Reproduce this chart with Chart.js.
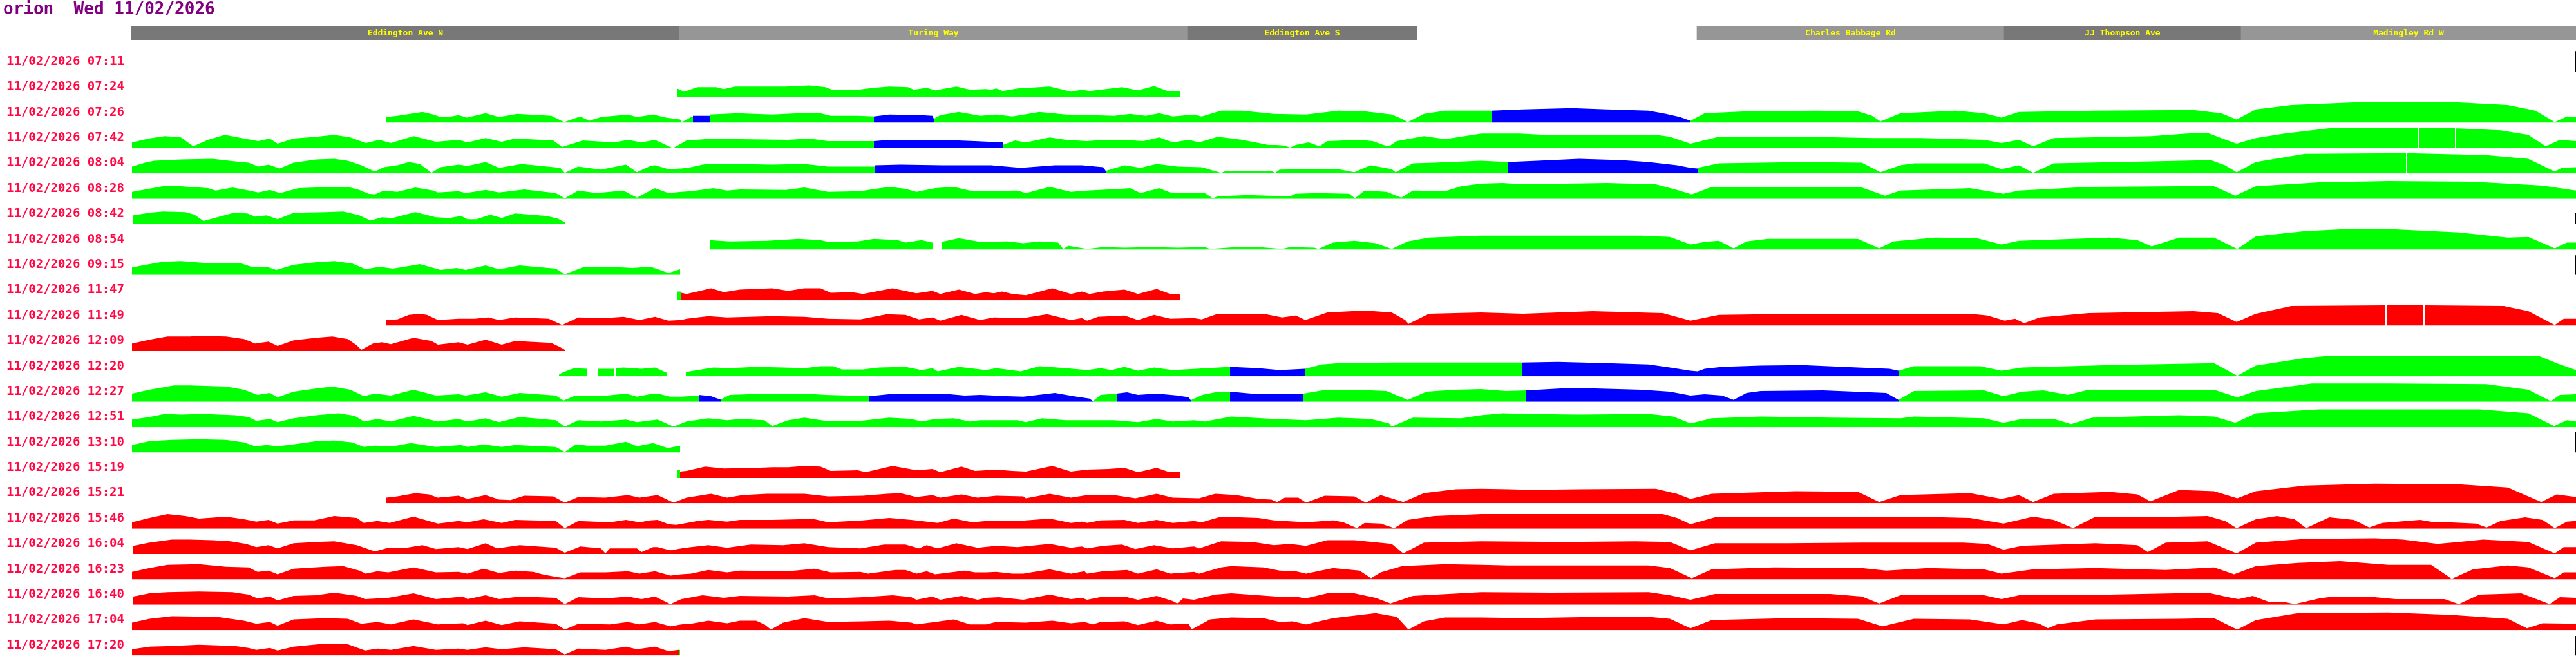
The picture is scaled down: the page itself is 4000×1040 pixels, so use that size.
<!DOCTYPE html>
<html>
<head>
  <title>orion trips</title>
  <script src="https://cdn.jsdelivr.net/npm/chart.js"></script>
  <style>
    body { margin: 0; background: #fff; }
    #wrap { width: 4000px; height: 1040px; }
  </style>
</head>
<body>
<div id="wrap"><canvas id="trips"></canvas></div>
<script>
// distance along the route (m), 0 = start of Eddington Ave N
const routeLength = 3796;

const roadNames = ['Eddington Ave N', 'Turing Way', 'Eddington Ave S', 'Charles Babbage Rd', 'JJ Thompson Ave', 'Madingley Rd W'];
const roadFrom = [0, 851, 1640, 2431, 2908, 3276];
const roadTo = [851, 1640, 1996, 2908, 3276, 3796];

const tripLabels = [
  '11/02/2026 07:11', '11/02/2026 07:24', '11/02/2026 07:26', '11/02/2026 07:42',
  '11/02/2026 08:04', '11/02/2026 08:28', '11/02/2026 08:42', '11/02/2026 08:54',
  '11/02/2026 09:15', '11/02/2026 11:47', '11/02/2026 11:49', '11/02/2026 12:09',
  '11/02/2026 12:20', '11/02/2026 12:27', '11/02/2026 12:51', '11/02/2026 13:10',
  '11/02/2026 15:19', '11/02/2026 15:21', '11/02/2026 15:46', '11/02/2026 16:04',
  '11/02/2026 16:23', '11/02/2026 16:40', '11/02/2026 17:04', '11/02/2026 17:20'
];

// each trip: pieces of [state, [distance, speed, distance, speed, ...]]
const trip0711 = [];
const trip0724 = [
  ['up', [847,14, 852,12, 858,9, 879,16, 908,16, 920,13, 937,17, 1016,17, 1053,19, 1078,16, 1088,12, 1128,12, 1153,15, 1177,17, 1206,16, 1215,12, 1235,15, 1248,11, 1281,17, 1302,12, 1327,13, 1335,12, 1343,14, 1353,10, 1376,14, 1426,17, 1459,9, 1476,12, 1488,10, 1538,16, 1563,11, 1588,18, 1609,10, 1629,10]]
];
const trip0726 = [
  ['up', [396,9, 413,11, 452,17, 469,13, 480,9, 497,10, 508,12, 521,8, 550,15, 571,9, 599,14, 652,11, 672,1, 697,10, 711,3, 729,9, 771,13, 785,9, 810,13, 830,8, 852,5, 855,1, 869,9, 872,10]],
  ['slow', [872,11, 898,11]],
  ['up', [898,13, 941,15, 995,13, 1036,15, 1070,15, 1086,11, 1128,11, 1153,10]],
  ['slow', [1153,10, 1177,13, 1227,12, 1244,11, 1246,6]],
  ['up', [1246,6, 1256,12, 1285,17, 1318,11, 1343,13, 1368,10, 1410,17, 1451,13, 1493,12, 1526,11, 1551,14, 1575,11, 1596,15, 1617,10, 1650,13, 1662,10, 1692,19, 1725,19, 1774,14, 1824,13, 1874,19, 1915,18, 1957,13, 1973,6, 1982,1, 2007,14, 2040,19, 2096,19, 2112,19]],
  ['slow', [2112,19, 2161,21, 2237,23, 2291,21, 2356,19, 2383,14, 2405,9, 2421,3]],
  ['up', [2421,3, 2443,15, 2508,18, 2616,19, 2681,18, 2703,11, 2716,2, 2747,15, 2833,19, 2877,15, 2904,8, 2931,17, 3050,19, 3202,20, 3245,15, 3269,5, 3299,21, 3354,28, 3451,32, 3614,32, 3690,28, 3733,19, 3763,1, 3782,10, 3796,9]]
];
const trip0742 = [
  ['up', [1,9, 27,15, 52,19, 77,17, 96,3, 119,13, 145,21, 175,15, 197,11, 215,15, 227,7, 252,15, 287,18, 315,21, 340,17, 364,8, 385,13, 403,8, 438,19, 473,10, 508,13, 522,9, 550,16, 575,10, 596,15, 655,12, 669,2, 701,12, 750,9, 771,13, 792,9, 813,13, 841,0, 862,12, 891,14, 945,14, 1020,13, 1053,15, 1082,11, 1136,11, 1153,11]],
  ['slow', [1153,11, 1177,13, 1211,12, 1260,13, 1310,11, 1353,9]],
  ['up', [1353,5, 1372,12, 1389,9, 1426,17, 1451,13, 1484,11, 1509,13, 1542,13, 1571,11, 1596,17, 1617,9, 1642,13, 1658,9, 1687,18, 1725,13, 1766,5, 1778,5, 1791,4, 1799,1, 1808,5, 1828,9, 1845,3, 1857,11, 1907,13, 1928,11, 1944,5, 1953,3, 1965,11, 2007,19, 2040,14, 2096,23, 2156,23, 2194,21, 2291,21, 2367,21, 2389,18, 2421,7, 2465,18, 2606,18, 2703,16, 2779,16, 2877,13, 2904,8, 2931,13, 2953,3, 2985,16, 3137,19, 3191,23, 3224,24, 3245,16, 3269,7, 3299,16, 3343,23, 3419,32, 3550,32]],
  ['up', [3552,32, 3608,32]],
  ['up', [3610,31, 3614,31, 3679,28, 3722,21, 3749,3, 3771,13, 3796,11]]
];
const trip0804 = [
  ['up', [1,11, 21,17, 35,20, 77,22, 126,23, 161,19, 182,17, 197,11, 213,14, 230,8, 252,17, 287,22, 315,23, 336,20, 357,13, 378,3, 392,10, 413,13, 431,18, 448,15, 466,1, 480,10, 508,14, 522,12, 550,18, 571,9, 606,15, 666,9, 673,1, 694,11, 729,6, 768,14, 785,2, 806,12, 813,13, 834,7, 854,8, 869,10, 887,14, 896,15, 941,15, 995,14, 1045,15, 1082,11, 1155,11]],
  ['slow', [1155,13, 1194,14, 1260,13, 1335,13, 1381,9, 1434,13, 1476,13, 1509,10, 1513,4]],
  ['up', [1513,4, 1542,13, 1567,9, 1592,15, 1625,11, 1662,10, 1692,1, 1700,4, 1770,4, 1776,1, 1783,6, 1824,7, 1874,7, 1899,2, 1924,13, 1957,7, 1963,2, 1990,16, 2023,17, 2096,20, 2137,18]],
  ['slow', [2137,18, 2183,20, 2248,23, 2313,21, 2356,18, 2400,13, 2421,9, 2432,8]],
  ['up', [2432,9, 2465,16, 2595,18, 2687,17, 2716,2, 2747,13, 2768,16, 2877,16, 2904,7, 2931,13, 2953,1, 2985,16, 3137,19, 3229,21, 3251,13, 3269,2, 3299,18, 3375,31, 3532,32]],
  ['up', [3534,32, 3657,29, 3722,23, 3763,3, 3774,9, 3796,10]]
];
const trip0828 = [
  ['up', [1,11, 27,16, 49,20, 77,20, 119,17, 131,13, 157,18, 178,14, 197,10, 215,14, 231,9, 259,17, 287,18, 336,19, 354,14, 368,8, 378,7, 392,13, 413,11, 441,18, 469,13, 476,10, 508,12, 519,9, 550,14, 571,10, 610,15, 659,9, 673,1, 694,13, 722,9, 764,13, 785,2, 813,17, 834,9, 854,11, 869,12, 904,17, 925,13, 945,15, 1016,14, 1045,18, 1082,11, 1132,12, 1144,14, 1177,19, 1202,16, 1219,11, 1248,17, 1277,19, 1302,13, 1318,12, 1376,13, 1389,9, 1426,19, 1459,11, 1484,13, 1517,15, 1551,17, 1567,9, 1596,17, 1613,10, 1638,9, 1667,9, 1679,1, 1687,4, 1733,6, 1799,4, 1808,8, 1841,9, 1891,8, 1900,1, 1915,13, 1949,11, 1972,2, 1990,13, 2040,12, 2065,20, 2096,24, 2129,25, 2161,23, 2291,25, 2367,23, 2400,14, 2423,7, 2454,19, 2573,18, 2687,18, 2723,5, 2747,13, 2855,17, 2907,8, 2931,13, 3039,19, 3180,20, 3234,20, 3267,5, 3299,20, 3397,26, 3505,28, 3636,27, 3744,21, 3796,13]]
];
const trip0842 = [
  ['up', [3,14, 28,18, 49,20, 84,19, 98,15, 112,5, 133,11, 159,18, 180,17, 192,12, 210,14, 227,8, 252,18, 301,19, 329,20, 354,14, 371,6, 389,11, 406,10, 441,19, 473,11, 494,10, 512,13, 522,8, 536,8, 557,15, 575,10, 596,17, 645,13, 662,9, 673,3]]
];
const trip0854 = [
  ['up', [898,15, 929,13, 987,14, 1036,17, 1070,15, 1082,12, 1128,13, 1153,17, 1190,15, 1202,11, 1227,15, 1244,11]],
  ['up', [1258,12, 1285,18, 1318,12, 1360,13, 1385,10, 1410,13, 1439,11, 1447,1, 1455,6, 1484,1, 1509,4, 1542,3, 1584,4, 1625,3, 1667,4, 1675,1, 1716,4, 1750,4, 1787,1, 1799,4, 1837,3, 1843,1, 1866,11, 1899,14, 1932,10, 1957,1, 1982,13, 2015,19, 2096,22, 2259,22, 2345,22, 2389,20, 2421,8, 2443,12, 2465,14, 2488,2, 2508,13, 2541,17, 2681,17, 2714,2, 2736,13, 2801,19, 2866,18, 2904,8, 2931,14, 3072,19, 3115,15, 3137,5, 3180,19, 3234,19, 3270,1, 3299,21, 3375,29, 3430,32, 3516,32, 3614,27, 3690,19, 3722,20, 3763,2, 3782,11, 3796,11]]
];
const trip0915 = [
  ['up', [1,12, 28,17, 49,21, 77,22, 112,19, 168,19, 189,12, 210,13, 225,8, 252,16, 287,20, 315,22, 343,18, 364,9, 385,13, 406,10, 448,17, 480,8, 505,11, 519,8, 550,15, 571,9, 603,15, 659,10, 673,1, 701,12, 743,13, 778,11, 806,13, 834,3, 852,9]]
];
const trip1147 = [
  ['up', [847,14, 854,14]],
  ['down', [854,12, 862,10, 879,14, 900,19, 920,13, 945,17, 995,19, 1020,15, 1045,19, 1070,19, 1086,12, 1119,13, 1136,10, 1182,19, 1219,11, 1244,15, 1256,10, 1285,17, 1310,10, 1327,13, 1339,11, 1352,14, 1368,10, 1389,8, 1430,19, 1459,10, 1476,14, 1488,10, 1509,14, 1542,17, 1563,10, 1592,18, 1613,10, 1629,9]]
];
const trip1149 = [
  ['down', [396,9, 413,10, 431,17, 448,19, 459,17, 476,9, 508,11, 533,11, 554,13, 571,9, 596,13, 648,11, 669,1, 694,13, 736,12, 764,14, 789,9, 813,14, 834,8, 854,9, 862,11, 896,15, 925,13, 995,15, 1045,14, 1082,11, 1132,10, 1173,18, 1202,17, 1223,10, 1244,13, 1256,8, 1289,17, 1318,9, 1339,13, 1385,12, 1422,18, 1459,9, 1476,12, 1484,8, 1501,14, 1542,16, 1563,9, 1588,17, 1613,11, 1650,12, 1662,10, 1687,19, 1758,19, 1787,13, 1808,16, 1823,9, 1857,21, 1915,24, 1957,21, 1978,9, 1983,3, 2015,19, 2096,21, 2161,19, 2269,23, 2378,20, 2421,8, 2465,17, 2595,19, 2703,18, 2855,19, 2882,16, 2909,8, 2925,11, 2939,4, 2963,13, 3039,20, 3202,23, 3240,20, 3269,6, 3299,19, 3354,31, 3500,32]],
  ['down', [3503,32, 3559,32]],
  ['down', [3561,32, 3684,31, 3722,23, 3763,1, 3777,11, 3796,11]]
];
const trip1209 = [
  ['down', [1,12, 28,18, 56,23, 91,23, 105,24, 147,23, 175,19, 192,12, 213,15, 227,8, 252,17, 287,21, 312,23, 336,19, 350,9, 357,2, 375,12, 389,14, 403,11, 438,21, 466,16, 476,10, 508,14, 522,10, 550,18, 575,10, 596,16, 652,13, 668,5, 673,2]]
];
const trip1220 = [
  ['up', [664,3, 669,6, 687,13, 708,12]],
  ['up', [725,12, 750,12]],
  ['up', [752,13, 764,14, 792,12, 813,14, 831,6]],
  ['up', [861,7, 904,14, 929,13, 970,15, 1012,14, 1045,13, 1070,16, 1090,16, 1103,11, 1136,11, 1161,14, 1202,15, 1227,10, 1244,13, 1252,8, 1285,15, 1327,10, 1343,13, 1381,8, 1410,16, 1451,13, 1484,10, 1505,13, 1522,10, 1542,15, 1563,9, 1588,14, 1617,10, 1671,13, 1706,15]],
  ['slow', [1706,15, 1750,13, 1783,10, 1822,12]],
  ['up', [1822,12, 1849,19, 1874,21, 1957,22, 2096,22, 2159,22]],
  ['slow', [2159,22, 2215,23, 2291,21, 2356,19, 2389,14, 2421,9, 2432,8, 2443,12, 2470,15, 2530,17, 2595,18, 2681,14, 2730,12, 2744,9]],
  ['up', [2744,9, 2768,16, 2871,16, 2904,9, 2936,14, 3072,18, 3234,21, 3270,1, 3299,17, 3375,29, 3408,32, 3739,32, 3766,21, 3796,10]]
];
const trip1227 = [
  ['up', [1,13, 28,19, 66,26, 91,26, 147,24, 175,19, 196,11, 215,14, 227,7, 252,16, 287,21, 312,24, 340,19, 361,9, 378,13, 403,10, 438,19, 473,10, 508,12, 519,10, 550,15, 575,8, 603,14, 659,10, 671,2, 687,9, 729,9, 768,13, 785,8, 810,13, 817,13, 837,8, 854,8, 881,10]],
  ['slow', [881,11, 900,9, 916,3]],
  ['up', [916,4, 929,11, 987,13, 1045,13, 1078,11, 1146,9]],
  ['slow', [1146,9, 1186,13, 1260,13, 1294,10, 1318,11, 1360,9, 1385,8, 1434,14, 1463,9, 1488,5, 1493,1]],
  ['up', [1493,1, 1505,11, 1530,13]],
  ['slow', [1530,13, 1546,15, 1563,11, 1592,13, 1625,10, 1642,7, 1646,1]],
  ['up', [1646,3, 1663,11, 1683,15, 1706,16]],
  ['slow', [1706,16, 1750,12, 1820,12]],
  ['up', [1820,13, 1849,18, 1899,19, 1949,17, 1982,3, 2011,16, 2056,19, 2096,20, 2134,17, 2166,18]],
  ['slow', [2166,18, 2237,22, 2345,19, 2389,16, 2421,10, 2443,12, 2470,10, 2488,3, 2508,14, 2530,17, 2627,18, 2725,14, 2744,3]],
  ['up', [2744,3, 2768,17, 2877,18, 2907,9, 2936,16, 2969,18, 3007,11, 3039,19, 3234,19, 3270,7, 3299,17, 3386,29, 3505,29, 3657,28, 3722,19, 3757,1, 3771,11, 3796,12]]
];
const trip1251 = [
  ['up', [1,12, 28,16, 52,21, 77,20, 112,21, 161,19, 182,16, 194,10, 215,13, 227,8, 252,14, 287,19, 322,22, 347,18, 361,9, 382,13, 403,9, 438,18, 476,9, 508,13, 522,9, 550,14, 571,8, 603,16, 659,11, 673,1, 694,11, 729,9, 768,12, 785,8, 817,12, 842,1, 862,9, 896,14, 925,11, 945,13, 983,11, 995,2, 1020,11, 1045,15, 1078,10, 1132,10, 1177,15, 1211,13, 1227,9, 1248,13, 1277,14, 1302,9, 1318,11, 1376,11, 1389,8, 1414,14, 1451,11, 1526,11, 1563,8, 1592,13, 1617,9, 1650,11, 1667,9, 1708,17, 1774,13, 1824,11, 1874,15, 1924,13, 1953,6, 1957,1, 1990,15, 2065,14, 2096,19, 2129,22, 2161,21, 2248,20, 2356,21, 2394,17, 2421,6, 2454,14, 2530,17, 2638,15, 2747,14, 2768,17, 2877,14, 2907,7, 2936,13, 2985,13, 3012,5, 3045,15, 3180,19, 3234,17, 3267,7, 3299,22, 3397,28, 3646,28, 3722,22, 3762,2, 3782,11, 3796,9]]
];
const trip1310 = [
  ['up', [1,12, 28,18, 63,20, 105,21, 147,20, 175,16, 192,10, 210,12, 227,10, 252,13, 287,18, 315,19, 343,16, 361,9, 378,11, 406,10, 434,15, 473,9, 512,12, 522,9, 547,13, 575,9, 596,12, 659,9, 673,1, 690,13, 708,11, 736,11, 768,17, 785,10, 810,15, 833,7, 852,11]]
];
const trip1519 = [
  ['up', [847,13, 852,13]],
  ['down', [852,10, 862,11, 891,18, 920,15, 970,16, 995,17, 1020,17, 1045,19, 1070,18, 1086,11, 1128,12, 1140,9, 1182,19, 1219,12, 1244,14, 1256,9, 1289,18, 1310,11, 1343,13, 1368,11, 1389,10, 1430,19, 1459,10, 1484,13, 1517,14, 1542,16, 1563,9, 1592,16, 1609,10, 1629,9]]
];
const trip1521 = [
  ['down', [396,9, 413,11, 441,16, 462,14, 476,9, 508,12, 522,7, 550,13, 571,6, 589,5, 610,12, 655,11, 673,1, 694,10, 736,9, 771,13, 789,9, 817,13, 842,1, 862,9, 900,15, 925,9, 949,13, 987,15, 1045,15, 1082,11, 1136,12, 1173,15, 1194,16, 1219,10, 1244,13, 1256,9, 1289,14, 1314,9, 1343,12, 1385,11, 1389,8, 1426,15, 1459,9, 1484,13, 1526,13, 1559,8, 1592,15, 1617,9, 1658,8, 1683,15, 1716,13, 1750,7, 1770,6, 1779,2, 1791,9, 1812,9, 1824,1, 1853,12, 1899,11, 1917,1, 1940,13, 1975,2, 2007,16, 2056,22, 2096,23, 2139,22, 2172,21, 2248,22, 2367,23, 2400,15, 2421,7, 2454,15, 2584,19, 2681,18, 2714,2, 2747,13, 2855,16, 2904,7, 2931,13, 2953,2, 2985,15, 3072,18, 3115,14, 3135,3, 3180,21, 3234,19, 3270,8, 3299,19, 3375,28, 3484,31, 3614,30, 3690,25, 3742,2, 3766,14, 3796,10]]
];
const trip1546 = [
  ['down', [1,10, 28,17, 56,23, 84,20, 105,16, 147,19, 175,15, 194,11, 213,14, 227,8, 252,13, 284,13, 315,20, 350,17, 361,9, 382,12, 401,9, 438,19, 476,8, 508,12, 522,10, 547,15, 575,9, 596,14, 659,12, 673,1, 694,12, 743,10, 768,14, 789,10, 806,13, 817,14, 834,7, 846,6, 879,12, 896,14, 925,11, 945,14, 995,14, 1036,15, 1061,15, 1082,10, 1136,13, 1177,17, 1211,14, 1252,9, 1277,16, 1306,10, 1327,12, 1376,12, 1426,16, 1459,9, 1476,11, 1484,9, 1505,13, 1542,14, 1563,9, 1592,14, 1617,9, 1650,12, 1662,10, 1692,19, 1750,17, 1774,13, 1824,10, 1866,13, 1882,10, 1903,1, 1915,9, 1940,8, 1961,1, 1982,14, 2023,20, 2096,23, 2291,23, 2378,23, 2400,17, 2421,7, 2459,18, 2573,19, 2692,18, 2768,19, 2855,17, 2907,8, 2953,19, 2985,14, 3015,1, 3050,19, 3126,18, 3224,20, 3251,12, 3269,1, 3299,15, 3332,20, 3359,15, 3377,1, 3413,18, 3451,14, 3475,2, 3495,9, 3554,14, 3576,10, 3598,10, 3641,8, 3657,2, 3679,12, 3717,18, 3744,14, 3763,1, 3782,11, 3796,12]]
];
const trip1604 = [
  ['down', [3,13, 28,18, 63,23, 91,23, 126,22, 154,20, 178,16, 194,11, 213,14, 227,9, 252,17, 287,19, 315,20, 350,14, 378,4, 399,10, 427,10, 452,14, 473,8, 508,11, 522,8, 550,17, 568,9, 603,14, 659,10, 673,2, 697,12, 729,9, 736,1, 743,9, 785,9, 792,3, 810,11, 817,11, 837,6, 854,9, 869,11, 896,14, 925,10, 962,15, 1012,14, 1045,17, 1082,11, 1132,9, 1169,15, 1202,15, 1223,9, 1235,14, 1252,9, 1281,17, 1314,10, 1343,13, 1376,11, 1426,16, 1459,10, 1476,12, 1484,9, 1509,13, 1538,15, 1559,8, 1588,14, 1617,9, 1650,12, 1658,9, 1692,20, 1741,19, 1774,14, 1799,16, 1824,13, 1857,22, 1899,22, 1957,16, 1975,1, 2007,18, 2096,20, 2226,19, 2335,20, 2389,19, 2421,6, 2459,17, 2573,17, 2687,18, 2844,18, 2882,16, 2907,7, 2936,13, 3050,17, 3115,14, 3131,3, 3159,18, 3224,20, 3269,1, 3299,18, 3375,24, 3484,25, 3527,23, 3581,16, 3614,19, 3652,23, 3722,19, 3763,1, 3777,11, 3796,11]]
];
const trip1623 = [
  ['down', [1,12, 28,18, 56,23, 105,24, 147,20, 182,19, 196,12, 213,14, 227,8, 252,17, 301,20, 329,21, 354,14, 364,9, 382,13, 399,11, 438,19, 473,11, 508,12, 522,9, 547,17, 571,10, 596,14, 624,12, 638,8, 659,4, 673,2, 697,11, 736,11, 771,13, 789,9, 813,13, 837,6, 854,8, 869,9, 896,15, 925,11, 945,14, 1020,13, 1061,17, 1086,11, 1132,12, 1144,9, 1186,15, 1202,15, 1219,9, 1235,13, 1248,8, 1294,14, 1310,11, 1327,11, 1343,12, 1368,9, 1385,9, 1426,16, 1459,9, 1480,13, 1484,9, 1509,13, 1546,15, 1563,9, 1592,16, 1613,9, 1650,12, 1658,9, 1692,19, 1708,21, 1758,19, 1783,14, 1808,13, 1824,9, 1866,18, 1907,14, 1925,2, 1940,11, 1973,21, 2040,24, 2096,23, 2139,22, 2356,22, 2389,18, 2423,2, 2454,16, 2551,19, 2687,18, 2725,14, 2790,18, 2877,16, 2904,9, 2953,16, 3050,18, 3159,15, 3234,19, 3265,8, 3299,21, 3364,26, 3430,29, 3505,23, 3571,23, 3603,1, 3636,16, 3690,22, 3722,19, 3763,2, 3777,11, 3796,11]]
];
const trip1640 = [
  ['down', [3,13, 28,18, 56,20, 105,21, 157,20, 182,16, 196,10, 215,13, 227,7, 252,14, 287,15, 315,19, 350,14, 363,9, 399,11, 438,18, 473,9, 515,13, 522,9, 550,15, 571,9, 603,13, 659,11, 673,1, 694,12, 736,10, 771,13, 792,9, 813,13, 837,1, 854,9, 887,15, 920,11, 945,14, 1020,13, 1061,15, 1082,10, 1136,12, 1182,15, 1211,12, 1219,8, 1244,13, 1256,8, 1289,14, 1314,8, 1327,11, 1347,12, 1385,8, 1426,16, 1459,9, 1476,11, 1484,8, 1509,13, 1542,13, 1563,8, 1592,14, 1617,6, 1624,2, 1633,10, 1650,8, 1683,16, 1708,18, 1750,15, 1791,12, 1808,13, 1823,10, 1857,18, 1899,18, 1932,11, 1955,2, 1990,14, 2096,20, 2204,19, 2356,20, 2389,15, 2421,8, 2459,17, 2638,17, 2687,13, 2714,2, 2747,15, 2877,15, 2904,9, 2936,16, 3072,16, 3224,19, 3256,12, 3272,9, 3294,14, 3321,4, 3341,5, 3359,1, 3397,10, 3419,13, 3473,13, 3516,9, 3592,9, 3614,1, 3646,16, 3711,18, 3755,1, 3771,12, 3796,11]]
];
const trip1704 = [
  ['down', [1,12, 28,18, 63,22, 133,21, 175,15, 194,10, 215,13, 227,7, 252,17, 301,19, 336,18, 357,10, 382,13, 403,9, 438,17, 476,9, 515,11, 522,8, 550,15, 575,8, 603,14, 659,10, 673,1, 694,10, 743,9, 771,13, 789,9, 813,13, 837,6, 854,9, 869,10, 896,15, 925,11, 945,15, 970,15, 983,9, 993,1, 1012,12, 1045,19, 1082,13, 1136,14, 1177,15, 1211,12, 1219,9, 1248,13, 1277,17, 1302,9, 1327,9, 1343,13, 1389,12, 1430,15, 1459,11, 1480,13, 1493,9, 1505,13, 1542,14, 1563,8, 1592,15, 1613,9, 1642,10, 1646,1, 1675,17, 1708,20, 1758,19, 1783,13, 1803,14, 1824,9, 1866,19, 1932,27, 1965,21, 1983,1, 2007,14, 2040,20, 2096,20, 2161,19, 2280,21, 2356,21, 2389,18, 2421,3, 2454,16, 2573,19, 2681,18, 2719,6, 2768,18, 2855,17, 2907,9, 2936,16, 2963,10, 2976,3, 2990,9, 3050,17, 3180,18, 3234,19, 3270,1, 3299,16, 3364,27, 3505,28, 3603,24, 3690,18, 3720,3, 3744,11, 3796,10]]
];
const trip1720 = [
  ['down', [1,10, 28,14, 63,15, 105,17, 161,15, 182,12, 194,9, 215,12, 227,8, 252,14, 301,19, 336,18, 363,8, 382,11, 403,9, 438,15, 473,9, 508,11, 522,9, 550,13, 575,10, 610,13, 659,10, 673,2, 694,11, 736,9, 768,14, 785,10, 813,14, 834,7, 850,9]],
  ['up', [850,9, 852,9]]
];

const trips = [trip0711, trip0724, trip0726, trip0742, trip0804, trip0828, trip0842, trip0854,
  trip0915, trip1147, trip1149, trip1209, trip1220, trip1227, trip1251, trip1310,
  trip1519, trip1521, trip1546, trip1604, trip1623, trip1640, trip1704, trip1720];

// trips that did not reach the end of the route
const endMarkRows = [0, 6, 8, 15, 23];
const endMarkHeights = [33, 18, 31, 33, 31];

const fillColour = { up: '#00ff00', slow: '#0000ff', down: '#ff0000' };
const mono = 'DejaVu Sans Mono';

const scales = {
  x: { type: 'linear', min: 0, max: routeLength, display: false },
  road: {
    type: 'linear', axis: 'y', position: 'left', stack: 'rows', stackWeight: 1.075, weight: 100,
    min: -1, max: 1,
    grid: { display: false, drawTicks: false }, border: { display: false },
    ticks: { display: false },
    afterFit: s => { s.width = 199; }
  }
};
tripLabels.forEach((label, i) => {
  scales['t' + i] = {
    type: 'linear', axis: 'y', position: 'left', stack: 'rows', weight: 50 - i,
    min: 0, max: 40,
    grid: { display: false, drawTicks: false }, border: { display: false },
    afterBuildTicks: s => { s.ticks = [{ value: 16 }]; },
    ticks: { callback: () => label, color: '#ff0844', padding: 11, font: { family: mono, size: 19, weight: 'bold' } },
    afterFit: s => { s.width = 199; }
  };
});

const datasets = [{
  type: 'bar', indexAxis: 'y', xAxisID: 'x', yAxisID: 'road',
  data: roadNames.map((n, i) => ({ x: [roadFrom[i], roadTo[i]], y: 0 })),
  backgroundColor: roadNames.map((n, i) => i % 2 ? '#969696' : '#787878'),
  barThickness: 21, borderWidth: 0
}];

trips.forEach((pieces, row) => {
  pieces.forEach(([state, flat]) => {
    const pts = [];
    for (let k = 0; k < flat.length; k += 2) pts.push({ x: flat[k], y: flat[k + 1] });
    datasets.push({
      type: 'line', xAxisID: 'x', yAxisID: 't' + row, data: pts,
      fill: 'origin', backgroundColor: fillColour[state], borderWidth: 0, pointRadius: 0
    });
  });
});

endMarkRows.forEach((row, k) => {
  datasets.push({
    type: 'line', xAxisID: 'x', yAxisID: 't' + row,
    data: [{ x: routeLength - 1, y: 0 }, { x: routeLength - 1, y: endMarkHeights[k] }],
    borderColor: '#000', borderWidth: 2, pointRadius: 0, fill: false
  });
});

const roadLabels = {
  id: 'roadLabels',
  afterDatasetsDraw(chart) {
    const meta = chart.getDatasetMeta(0);
    const ctx = chart.ctx;
    ctx.save();
    ctx.font = 'bold 13px "' + mono + '"';
    ctx.fillStyle = '#ffff00';
    ctx.textAlign = 'center';
    ctx.textBaseline = 'middle';
    meta.data.forEach((bar, i) => {
      ctx.fillText(roadNames[i], (bar.x + bar.base) / 2, bar.y);
    });
    ctx.restore();
  }
};

new Chart(document.getElementById('trips'), {
  type: 'line',
  data: { datasets },
  options: {
    responsive: true,
    maintainAspectRatio: false,
    animation: false,
    events: [],
    layout: { padding: { left: 5, right: 0, top: 0, bottom: 7 } },
    scales,
    plugins: {
      legend: { display: false },
      tooltip: { enabled: false },
      title: {
        display: true, text: 'orion  Wed 11/02/2026', align: 'start', color: '#800080',
        font: { family: mono, size: 26, weight: 'bold', lineHeight: 1 },
        padding: { top: 2, bottom: 2 }
      }
    }
  },
  plugins: [roadLabels]
});
</script>
</body>
</html>
